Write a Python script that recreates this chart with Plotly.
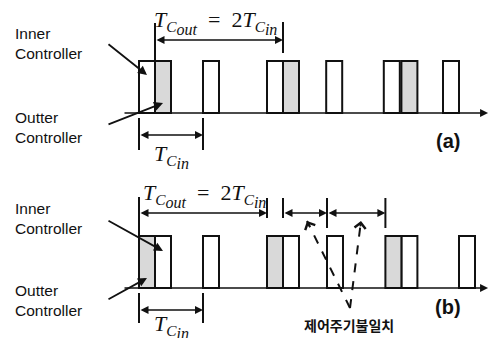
import plotly.graph_objects as go

# ---------------- data (time axis in units of one controller execution) ----------------
PULSE_WIDTH = 1.0
PULSE_HEIGHT = 1.0
inner_a = [0, 4, 8, 11.7, 15.3, 19.0]      # inner controller executions, case (a)
outer_a = [1, 9, 16.4]                      # outer controller executions, case (a)
inner_b = [1, 4, 9, 11.75, 16.4, 20.0]      # inner controller executions, case (b)
outer_b = [0, 8, 15.4]                      # outer controller executions, case (b)
panel_labels = ["(a)", "(b)"]
ctrl_labels = ["Inner<br>Controller", "Outter<br>Controller"]
mismatch_label = "제어주기불일치"
NB = "\u00a0"
SS = "<span style='font-size:16px'>%s</span>"
tcout_label = ("<i>T</i><sub><i>C</i><sub><i>" + SS % "out" + "</i></sub></sub>"
               + NB * 2 + "=" + NB * 2 + "2<i>T</i><sub><i>C</i><sub><i>" + SS % "in"
               + "</i></sub></sub>")
tcin_label = "<i>T</i><sub><i>C</i><sub><i>" + SS % "in" + "</i></sub></sub>"

# ---------------- layout helpers ----------------
W, H = 489, 338
X0_PX, PX_PER_T = 139, 16.0
X_RANGE = [-X0_PX / PX_PER_T, (W - X0_PX) / PX_PER_T]
BASE_A, BASE_B, PX_PER_Y = 113, 288, 52.0


def tx(px):
    return (px - X0_PX) / PX_PER_T


def ly(py, base):
    return (base - py) / PX_PER_Y


GRAY = "#d9d9d9"
BLACK = "#111111"
LW = 2

fig = go.Figure()
# invisible anchors so both axes exist
fig.add_trace(go.Scatter(x=[0], y=[0], xaxis="x", yaxis="y", mode="markers",
                         marker=dict(opacity=0), hoverinfo="skip", showlegend=False))
fig.add_trace(go.Scatter(x=[0], y=[0], xaxis="x", yaxis="y2", mode="markers",
                         marker=dict(opacity=0), hoverinfo="skip", showlegend=False))

shapes = []
annotations = []


def vline(x, y0, y1, yref):
    shapes.append(dict(type="line", xref="x", yref=yref, x0=x, x1=x, y0=y0, y1=y1,
                       line=dict(color=BLACK, width=LW)))


def arrow(x0, y0, x1, y1, yref, both=False, head=2, size=1.0, width=1.6):
    a = dict(x=x1, y=y1, ax=x0, ay=y0, xref="x", yref=yref, axref="x", ayref=yref,
             text="", showarrow=True, arrowhead=head, arrowsize=size, arrowwidth=width,
             arrowcolor=BLACK, standoff=0, startstandoff=0)
    if both:
        a.update(arrowside="end+start", startarrowhead=head, startarrowsize=size)
    annotations.append(a)


def text(x, y, s, yref, size, family, color=BLACK, xanchor="center", yanchor="middle",
         align="left"):
    annotations.append(dict(x=x, y=y, xref="x", yref=yref, text=s, showarrow=False,
                            xanchor=xanchor, yanchor=yanchor, align=align,
                            font=dict(size=size, family=family, color=color)))


SANS = "Liberation Sans, Arial, sans-serif"
SERIF = "Liberation Serif, Times New Roman, serif"
CJK = "Noto Sans CJK KR, sans-serif"

panels = [
    dict(yref="y", base=BASE_A, inner=inner_a, outer=outer_a),
    dict(yref="y2", base=BASE_B, inner=inner_b, outer=outer_b),
]

for p in panels:
    yref, base = p["yref"], p["base"]
    # time axis
    arrow(tx(123), 0, X_RANGE[1] - 0.06, 0, yref, head=2, size=1.0, width=1.6)
    # pulses
    for t in p["inner"]:
        shapes.append(dict(type="rect", xref="x", yref=yref, x0=t, x1=t + PULSE_WIDTH,
                           y0=0, y1=PULSE_HEIGHT, fillcolor="white",
                           line=dict(color=BLACK, width=LW)))
    for t in p["outer"]:
        shapes.append(dict(type="rect", xref="x", yref=yref, x0=t, x1=t + PULSE_WIDTH,
                           y0=0, y1=PULSE_HEIGHT, fillcolor=GRAY,
                           line=dict(color=BLACK, width=LW)))

# ---- panel (a) annotations ----
ya = "y"
o0, o1 = outer_a[0], outer_a[1]
vline(o0, PULSE_HEIGHT, ly(23, BASE_A), ya)
vline(o1, ly(53, BASE_A), ly(22, BASE_A), ya)
arrow(o0, ly(40, BASE_A), o1, ly(40, BASE_A), ya, both=True)
text(tx(152), ly(22, BASE_A), tcout_label, ya, 22, SERIF, xanchor="left")
i0, i1 = inner_a[0], inner_a[1]
vline(i0, ly(118, BASE_A), ly(150, BASE_A), ya)
vline(i1, ly(118, BASE_A), ly(150, BASE_A), ya)
arrow(i0, ly(135, BASE_A), i1, ly(135, BASE_A), ya, both=True)
text(tx(152), ly(156, BASE_A), tcin_label, ya, 22, SERIF, xanchor="left")
text(tx(13), ly(43, BASE_A), ctrl_labels[0], ya, 15.5, SANS, xanchor="left")
text(tx(13), ly(127, BASE_A), ctrl_labels[1], ya, 15.5, SANS, xanchor="left")
arrow(tx(107), ly(43, BASE_A), tx(147), ly(75, BASE_A), ya, size=1.0, width=1.8)
arrow(tx(107), ly(125, BASE_A), tx(163), ly(103, BASE_A), ya, size=1.0, width=1.8)
text(tx(448), ly(141, BASE_A), "<b>%s</b>" % panel_labels[0], ya, 20, SANS)

# ---- panel (b) annotations ----
yb = "y2"
o0, o1 = outer_b[0], outer_b[1]
vline(o0, PULSE_HEIGHT, ly(197, BASE_B), yb)
vline(o1, ly(218, BASE_B), ly(198, BASE_B), yb)
arrow(o0, ly(213, BASE_B), o1, ly(213, BASE_B), yb, both=True)
text(tx(141), ly(195, BASE_B), tcout_label, yb, 22, SERIF, xanchor="left")
# mismatch periods
m0, m1, m2 = inner_b[2], inner_b[3], outer_b[2]
vline(m0, ly(218, BASE_B), ly(198, BASE_B), yb)
vline(m1, ly(228, BASE_B), ly(198, BASE_B), yb)
vline(m2, ly(228, BASE_B), ly(198, BASE_B), yb)
arrow(m0, ly(213, BASE_B), m1, ly(213, BASE_B), yb, both=True)
arrow(m1, ly(213, BASE_B), m2, ly(213, BASE_B), yb, both=True)
# dashed pointers
tail = (tx(350), ly(308, BASE_B))
for hx in (tx(307), tx(361)):
    hy = ly(221, BASE_B)
    shapes.append(dict(type="line", xref="x", yref=yb, x0=tail[0], y0=tail[1], x1=hx, y1=hy,
                       line=dict(color=BLACK, width=2, dash="dash")))
    dx, dy = hx - tail[0], hy - tail[1]
    arrow(hx - dx * 0.08, hy - dy * 0.08, hx, hy, yb, head=4, size=1.2, width=1.8)
text(tx(349), ly(325, BASE_B), "<b>%s</b>" % mismatch_label, yb, 14, CJK)
i0, i1 = outer_b[0], inner_b[1]
vline(i0, ly(293, BASE_B), ly(323, BASE_B), yb)
vline(i1, ly(293, BASE_B), ly(323, BASE_B), yb)
arrow(i0, ly(310, BASE_B), i1, ly(310, BASE_B), yb, both=True)
text(tx(152), ly(326, BASE_B), tcin_label, yb, 22, SERIF, xanchor="left")
text(tx(13), ly(218, BASE_B), ctrl_labels[0], yb, 15.5, SANS, xanchor="left")
text(tx(13), ly(300, BASE_B), ctrl_labels[1], yb, 15.5, SANS, xanchor="left")
arrow(tx(107), ly(220, BASE_B), tx(163), ly(251, BASE_B), yb, size=1.0, width=1.8)
arrow(tx(107), ly(300, BASE_B), tx(147), ly(278, BASE_B), yb, size=1.0, width=1.8)
text(tx(448), ly(307, BASE_B), "<b>%s</b>" % panel_labels[1], yb, 20, SANS)

fig.update_layout(
    width=W, height=H, margin=dict(l=0, r=0, t=0, b=0),
    paper_bgcolor="white", plot_bgcolor="white", showlegend=False,
    xaxis=dict(range=X_RANGE, visible=False, fixedrange=True),
    yaxis=dict(domain=[0.5, 1], range=[ly(169, BASE_A), ly(0, BASE_A)], visible=False,
               fixedrange=True),
    yaxis2=dict(domain=[0, 0.5], range=[ly(338, BASE_B), ly(169, BASE_B)], visible=False,
                fixedrange=True, anchor="x"),
    shapes=shapes, annotations=annotations,
)

fig.write_html("out.html", config={"displayModeBar": False, "staticPlot": True},
               post_script="document.body.style.margin='0';document.body.style.overflow='hidden';")
